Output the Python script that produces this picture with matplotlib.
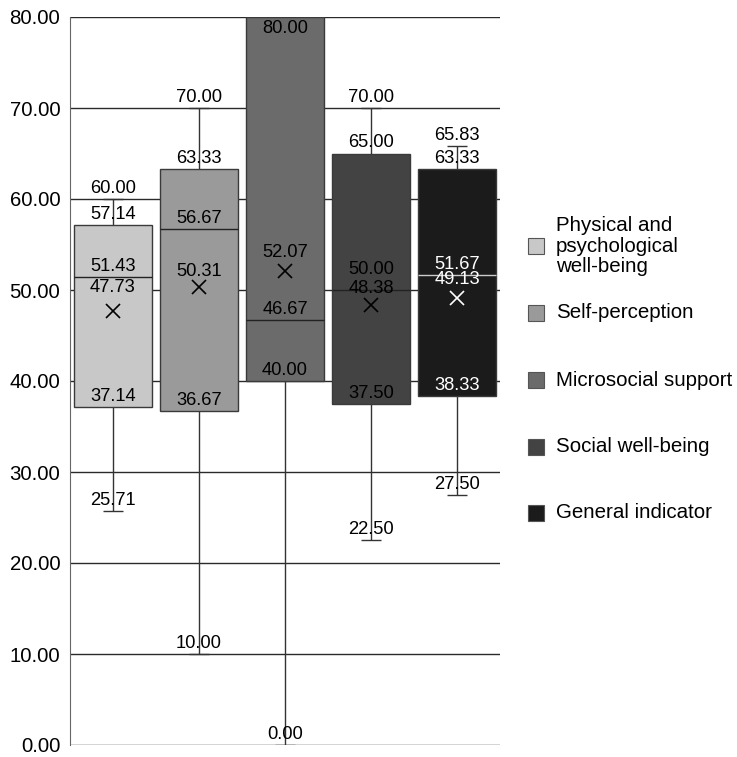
import matplotlib.pyplot as plt
from matplotlib.patches import Rectangle

plt.rcParams['font.family'] = ['Liberation Sans', 'DejaVu Sans']

# box-plot statistics
categories = ['Physical and\npsychological\nwell-being', 'Self-perception',
              'Microsocial support', 'Social well-being', 'General indicator']
low = [25.71, 10.00, 0.00, 22.50, 27.50]
q1 = [37.14, 36.67, 40.00, 37.50, 38.33]
median = [51.43, 56.67, 46.67, 50.00, 51.67]
q3 = [57.14, 63.33, 80.00, 65.00, 63.33]
high = [60.00, 70.00, 80.00, 70.00, 65.83]
mean = [47.73, 50.31, 52.07, 48.38, 49.13]

colors = ['#c8c8c8', '#9a9a9a', '#6b6b6b', '#434343', '#1b1b1b']
inner_txt = ['black', 'black', 'black', 'black', 'white']
med_col = ['#222222', '#222222', '#222222', '#222222', '#cccccc']
# label offsets (points) as placed in the original
med_off = [1.5, 1.5, 1.5, 8.5, 1.5]
mean_off = [10.5, 5, 7, 5.5, 7]

W, H = 737, 757
fig = plt.figure(figsize=(W / 100, H / 100), dpi=100)
ax = fig.add_axes([70 / W, 12 / H, 430 / W, 728 / H])

x = list(range(len(categories)))
ax.bar(x, [b - a for a, b in zip(q1, q3)], bottom=q1, width=0.9,
       color=colors, edgecolor='#3a3a3a', linewidth=1, zorder=2)

fs = 13.2
for i in x:
    ax.hlines(median[i], i - 0.45, i + 0.45, color=med_col[i], lw=1, zorder=3)
    if high[i] > q3[i]:
        ax.vlines(i, q3[i], high[i], color='#333333', lw=1, zorder=1.5)
        ax.hlines(high[i], i - 0.115, i + 0.115, color='#333333', lw=1, zorder=1.5)
    ax.vlines(i, low[i], q1[i], color='#333333', lw=1, zorder=1.5)
    ax.hlines(low[i], i - 0.115, i + 0.115, color='#333333', lw=1, zorder=1.5)
    ax.plot(i, mean[i], marker='x', ms=10, mew=1.2, color=inner_txt[i], zorder=4)

    # value labels
    outside = [low[i]] + ([high[i]] if high[i] > q3[i] else [])
    for v in outside:
        ax.annotate('%.2f' % v, (i, v), xytext=(0, 1.5), textcoords='offset points',
                    ha='center', va='bottom', fontsize=fs, color='black', zorder=5)
    if q3[i] >= 80:
        ax.annotate('%.2f' % q3[i], (i, q3[i]), xytext=(0, -2), textcoords='offset points',
                    ha='center', va='top', fontsize=fs, color=inner_txt[i], zorder=5)
    else:
        ax.annotate('%.2f' % q3[i], (i, q3[i]), xytext=(0, 1.5), textcoords='offset points',
                    ha='center', va='bottom', fontsize=fs, color='black', zorder=5)
    ax.annotate('%.2f' % q1[i], (i, q1[i]), xytext=(0, 1.5), textcoords='offset points',
                ha='center', va='bottom', fontsize=fs, color=inner_txt[i], zorder=5)
    ax.annotate('%.2f' % median[i], (i, median[i]), xytext=(0, med_off[i]),
                textcoords='offset points', ha='center', va='bottom', fontsize=fs,
                color=inner_txt[i], zorder=5)
    ax.annotate('%.2f' % mean[i], (i, mean[i]), xytext=(0, mean_off[i]),
                textcoords='offset points', ha='center', va='bottom', fontsize=fs,
                color=inner_txt[i], zorder=5)

ax.set_xlim(-0.5, 4.5)
ax.set_ylim(0, 80)
ax.set_yticks(range(0, 81, 10))
ax.set_yticklabels(['%.2f' % t for t in range(0, 81, 10)], fontsize=14.7)
ax.set_xticks([])
ax.tick_params(axis='y', length=0, pad=7)
ax.yaxis.grid(True, color='#2a2a2a', lw=1)
ax.set_axisbelow(True)
for s in ['top', 'right', 'bottom']:
    ax.spines[s].set_visible(False)
ax.spines['left'].set_color('#666666')

# legend drawn by hand
leg_y = [246, 313, 380, 447, 513]
for c, lab, yy in zip(colors, categories, leg_y):
    fig.add_artist(Rectangle((528 / W, 1 - (yy + 8) / H), 16 / W, 16 / H,
                             transform=fig.transFigure, facecolor=c,
                             edgecolor='#555555', lw=0.8))
    fig.text(556 / W, 1 - yy / H, lab, ha='left', va='center', fontsize=14.8,
             linespacing=1.12)

fig.savefig('out.png', dpi=100)
